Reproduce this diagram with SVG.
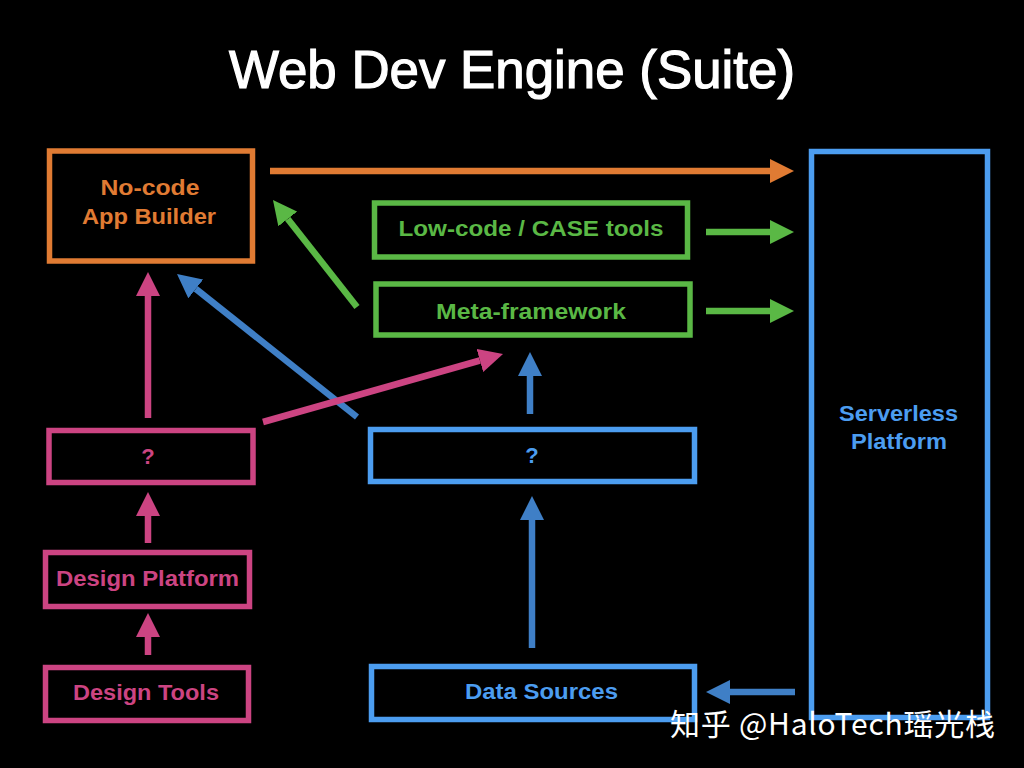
<svg xmlns="http://www.w3.org/2000/svg" width="1024" height="768" viewBox="0 0 1024 768">
<style>
.box{fill:none;stroke-width:5.5}
.lbl{font-family:"Liberation Sans",Arial,sans-serif;font-weight:bold;font-size:22px;text-anchor:middle}
.or{stroke:#e07b33}.gr{stroke:#5ab845}.pk{stroke:#cc4482}.bl{stroke:#4c9df0}.db{stroke:#3f7fc6}
.tor{fill:#e07b33}.tgr{fill:#5ab845}.tpk{fill:#cc4482}.tbl{fill:#4c9df0}
.c{stroke-width:6.5;fill:none}
</style>
<defs>
<marker id="hOr" markerUnits="userSpaceOnUse" markerWidth="25" markerHeight="24" refX="0" refY="12" orient="auto"><path d="M0,0 L24,12 L0,24 z" fill="#e07b33"/></marker>
<marker id="hGr" markerUnits="userSpaceOnUse" markerWidth="25" markerHeight="24" refX="0" refY="12" orient="auto"><path d="M0,0 L24,12 L0,24 z" fill="#5ab845"/></marker>
<marker id="hPk" markerUnits="userSpaceOnUse" markerWidth="25" markerHeight="24" refX="0" refY="12" orient="auto"><path d="M0,0 L24,12 L0,24 z" fill="#cc4482"/></marker>
<marker id="hDb" markerUnits="userSpaceOnUse" markerWidth="25" markerHeight="24" refX="0" refY="12" orient="auto"><path d="M0,0 L24,12 L0,24 z" fill="#3f7fc6"/></marker>
</defs>
<rect width="1024" height="768" fill="#000"/>
<text x="512" y="88" font-family="'Liberation Sans',Arial,sans-serif" font-size="53" fill="#fff" stroke="#fff" stroke-width="1.2" text-anchor="middle" textLength="566" lengthAdjust="spacingAndGlyphs">Web Dev Engine (Suite)</text>

<g id="connectors">
<line class="c or" x1="270" y1="171" x2="770" y2="171" marker-end="url(#hOr)"/>
<line class="c gr" x1="706" y1="232" x2="770" y2="232" marker-end="url(#hGr)"/>
<line class="c gr" x1="706" y1="311" x2="770" y2="311" marker-end="url(#hGr)"/>
<line class="c gr" x1="357" y1="307" x2="287.8" y2="218.9" marker-end="url(#hGr)"/>
<line class="c db" x1="357" y1="417" x2="195.8" y2="288.9" marker-end="url(#hDb)"/>
<line class="c pk" x1="263" y1="422" x2="479.9" y2="360.5" marker-end="url(#hPk)"/>
<line class="c pk" x1="148" y1="418" x2="148" y2="296" marker-end="url(#hPk)"/>
<line class="c pk" x1="148" y1="543" x2="148" y2="516" marker-end="url(#hPk)"/>
<line class="c pk" x1="148" y1="655" x2="148" y2="637" marker-end="url(#hPk)"/>
<line class="c db" x1="530" y1="414" x2="530" y2="376" marker-end="url(#hDb)"/>
<line class="c db" x1="532" y1="648" x2="532" y2="520" marker-end="url(#hDb)"/>
<line class="c db" x1="795" y1="692" x2="730" y2="692" marker-end="url(#hDb)"/>
</g>

<g id="nocode"><rect class="box or" x="49.5" y="151" width="203" height="110"/>
<text class="lbl tor" x="150" y="195" textLength="99" lengthAdjust="spacingAndGlyphs">No-code</text><text class="lbl tor" x="149" y="224" textLength="134" lengthAdjust="spacingAndGlyphs">App Builder</text></g>
<g id="lowcode"><rect class="box gr" x="374.5" y="203" width="313" height="54"/>
<text class="lbl tgr" x="531" y="236" textLength="265" lengthAdjust="spacingAndGlyphs">Low-code / CASE tools</text></g>
<g id="metaframework"><rect class="box gr" x="376" y="284" width="314" height="51"/>
<text class="lbl tgr" x="531" y="319" textLength="190" lengthAdjust="spacingAndGlyphs">Meta-framework</text></g>
<g id="serverless"><rect class="box bl" x="811.5" y="151.5" width="176" height="566"/>
<text class="lbl tbl" x="898.5" y="421" textLength="119" lengthAdjust="spacingAndGlyphs">Serverless</text><text class="lbl tbl" x="899" y="449" textLength="96" lengthAdjust="spacingAndGlyphs">Platform</text></g>
<g id="pinkq"><rect class="box pk" x="49" y="430.5" width="204" height="52"/>
<text class="lbl tpk" x="148" y="464">?</text></g>
<g id="blueq"><rect class="box bl" x="370.5" y="429.5" width="324" height="52"/>
<text class="lbl tbl" x="532" y="463">?</text></g>
<g id="designplatform"><rect class="box pk" x="45.5" y="552.5" width="204" height="54"/>
<text class="lbl tpk" x="147.5" y="586" textLength="183" lengthAdjust="spacingAndGlyphs">Design Platform</text></g>
<g id="designtools"><rect class="box pk" x="45.5" y="667.5" width="203" height="53"/>
<text class="lbl tpk" x="146" y="700" textLength="146" lengthAdjust="spacingAndGlyphs">Design Tools</text></g>
<g id="datasources"><rect class="box bl" x="371.5" y="666.5" width="323" height="53"/>
<text class="lbl tbl" x="541.5" y="699" textLength="153" lengthAdjust="spacingAndGlyphs">Data Sources</text></g>

<text x="670" y="735" font-family="'Noto Sans CJK SC','Noto Sans',sans-serif" font-size="30" fill="#fff" textLength="325">知乎 @HaloTech瑶光栈</text>
</svg>
